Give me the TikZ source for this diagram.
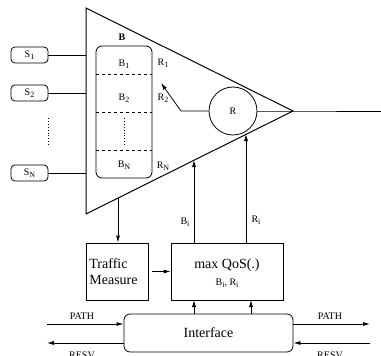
\documentclass[tikz,border=0pt]{standalone}
\usepackage{fontspec}
\setmainfont{Liberation Serif}
\usetikzlibrary{arrows.meta,calc}
\newcommand\lowsub[1]{\raisebox{-0.45ex}{\fontsize{8}{9}\selectfont #1}}
\begin{document}
\begin{tikzpicture}[x=1pt,y=-1pt,line width=0.8pt,
  arr/.style={-{Latex[length=7pt,width=4pt]}},
  small/.style={font=\fontsize{10}{12}\selectfont},
  big/.style={font=\fontsize{14}{16}\selectfont},
  src/.style={draw,rounded corners=4pt,minimum width=37pt,minimum height=16pt,inner sep=0pt,small},
  blk/.style={draw,inner sep=0pt},
  lbl/.style={inner sep=0pt,small}]
\useasboundingbox (0,0) rectangle (381,356);
% triangle
\coordinate (tl) at (86,8);
\coordinate (bl) at (86,214);
\coordinate (apex) at (293,111);
\coordinate (out) at (381,111);
\draw[line width=1pt] (tl) -- (apex) -- (bl) -- cycle;
% queue
\node[draw,rounded corners=6pt,minimum width=56pt,minimum height=132pt,inner sep=0pt] (q) at (124,112) {};
\node[lbl,font=\fontsize{10}{12}\selectfont\bfseries] (qb) at (122,37) {B};
\foreach \yy in {74,112,150} \draw[dashed] (q.west |- 0,\yy) -- (q.east |- 0,\yy);
\node[lbl] (b1) at (124,64) {B\lowsub{1}};
\node[lbl] (b2) at (124,98) {B\lowsub{2}};
\coordinate (vd1) at (124,118);
\coordinate (vd2) at (124,146);
\draw[dotted,line width=0.9pt] (vd1) -- (vd2);
\node[lbl] (bn) at (124,165) {B\lowsub{N}};
\node[lbl] (r1) at (163,63) {R\lowsub{1}};
\node[lbl] (r2) at (163,98) {R\lowsub{2}};
\node[lbl] (rn) at (163,166) {R\lowsub{N}};
% server
\node[draw,circle,minimum size=48pt,inner sep=0pt,small] (srv) at (233,111) {R};
\coordinate (sw) at (181,111);
\coordinate (swt) at (161,83);
\draw (srv.east) -- (apex) -- (out);
\draw[arr] (srv.west) -- (sw) -- (swt);
% sources
\node[src] (s1) at (29.5,55) {S\lowsub{1}};
\node[src] (s2) at (29.5,93) {S\lowsub{2}};
\node[src] (sn) at (29.5,173) {S\lowsub{N}};
\foreach \s in {s1,s2,sn} \draw (\s.east) -- (\s.east -| tl);
\coordinate (sd1) at (48,118);
\coordinate (sd2) at (48,146);
\draw[dotted,line width=0.9pt] (sd1) -- (sd2);
% lower blocks
\node[blk,minimum width=62pt,minimum height=57pt] (tm) at (117,271.5) {};
\node[big,align=left,inner sep=0pt,anchor=west] (tmt) at (89,271.5) {Traffic\\Measure};
\node[blk,minimum width=112pt,minimum height=57pt] (qos) at (227,271.5) {};
\node[big,inner sep=0pt] (qost) at (227,265) {max QoS(.)};
\node[lbl] (qosbr) at (227,283) {B\lowsub{i}, R\lowsub{i}};
\node[draw,rounded corners=6pt,minimum width=169pt,minimum height=38pt,inner sep=0pt,big] (ifc) at (208.5,333) {Interface};
% connectors
\coordinate (tmin) at (118,198);
\draw[arr] (tmin) -- (tm.north -| tmin);
\draw[arr,shorten <=4pt] (tm.east) -- (qos.west);
\coordinate (bin) at (194,160);
\coordinate (rin) at (246,134);
\draw[arr] (qos.north -| bin) -- (bin);
\draw[arr] (qos.north -| rin) -- (rin);
\node[lbl] (bil) at (185,222) {B\lowsub{i}};
\node[lbl] (ril) at (256,220) {R\lowsub{i}};
\coordinate (ia) at (194,300);
\coordinate (ib) at (251,300);
\draw[arr] (ifc.north -| ia) -- (ia);
\draw[arr] (ifc.north -| ib) -- (ib);
\coordinate (lp) at (47,324);
\coordinate (lr) at (47,343);
\coordinate (rp) at (370,324);
\coordinate (rr) at (370,343);
\draw[arr] (lp) -- (lp -| ifc.west);
\draw[arr] (lr -| ifc.west) -- (lr);
\draw[arr] (rp -| ifc.east) -- (rp);
\draw[arr] (rr) -- (rr -| ifc.east);
\node[lbl] (lpl) at (82,316) {PATH};
\node[lbl] (lrl) at (82,355) {RESV};
\node[lbl] (rpl) at (330,316) {PATH};
\node[lbl] (rrl) at (330,355) {RESV};
\end{tikzpicture}
\end{document}
